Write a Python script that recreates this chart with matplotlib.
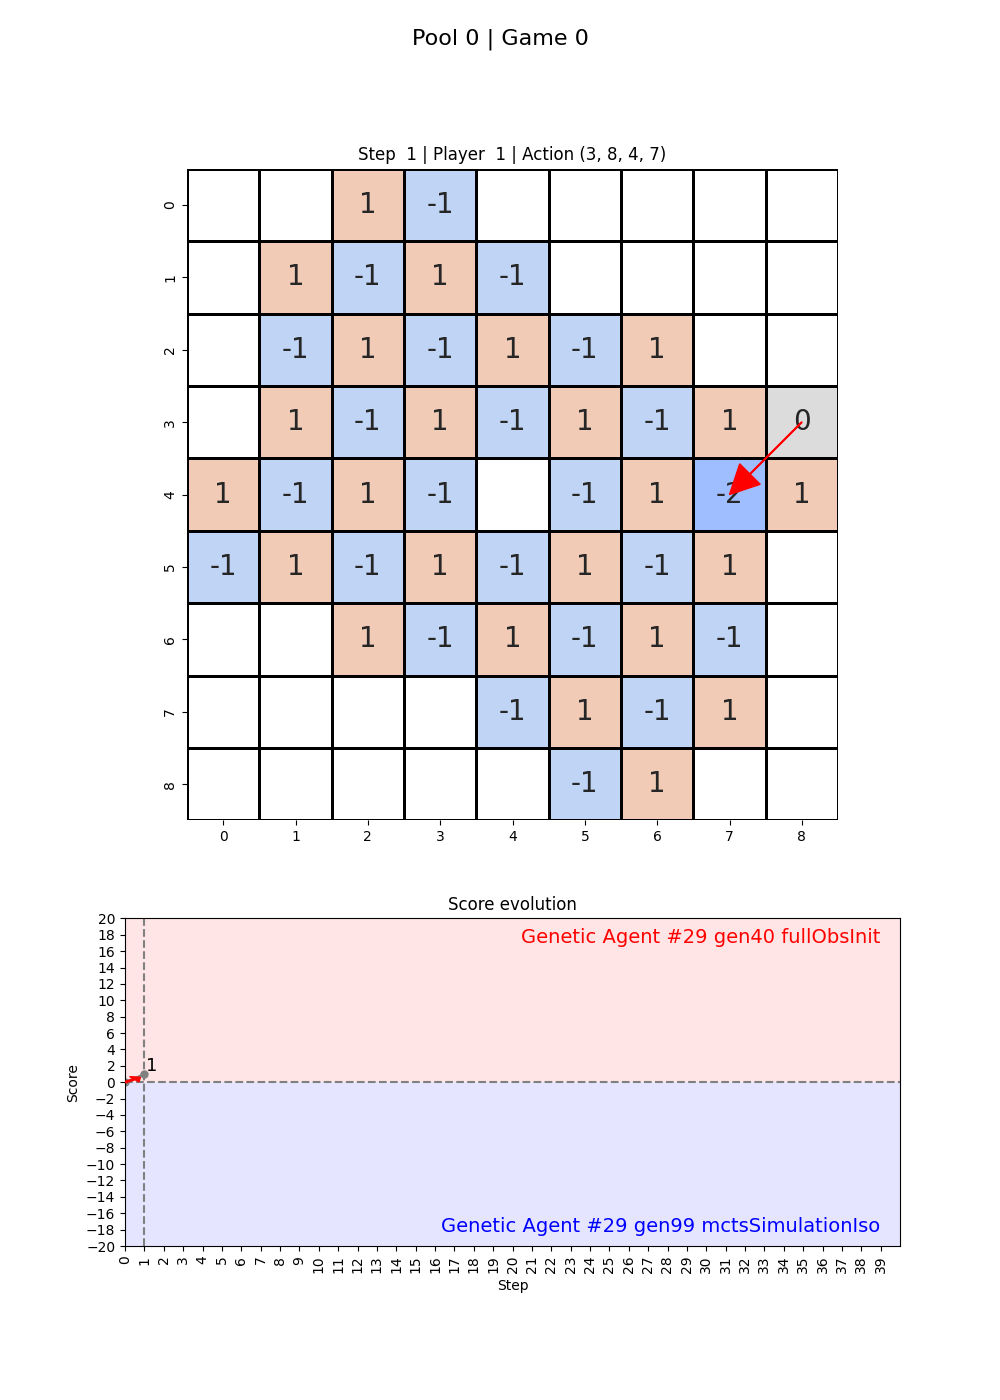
import numpy as np
import matplotlib
matplotlib.use('Agg')
import matplotlib.pyplot as plt
import seaborn as sns

#board state (nan = empty cell)
n= np.nan
board= [
	[n, n, 1, -1, n, n, n, n, n],
	[n, 1, -1, 1, -1, n, n, n, n],
	[n, -1, 1, -1, 1, -1, 1, n, n],
	[n, 1, -1, 1, -1, 1, -1, 1, 0],
	[1, -1, 1, -1, n, -1, 1, -2, 1],
	[-1, 1, -1, 1, -1, 1, -1, 1, n],
	[n, n, 1, -1, 1, -1, 1, -1, n],
	[n, n, n, n, -1, 1, -1, 1, n],
	[n, n, n, n, n, -1, 1, n, n],
]
action= (3, 8, 4, 7)
step= 1
player= 1

#score history
steps= [0, 1]
scores= [0, 1]
nSteps= 40
agentTop= 'Genetic Agent #29 gen40 fullObsInit'
agentBottom= 'Genetic Agent #29 gen99 mctsSimulationIso'

fig= plt.figure(figsize=(10, 14), dpi=100)
fig.suptitle('Pool 0 | Game 0', fontsize=16, y=0.98)

#board heatmap
ax1= fig.add_axes([0.187, 0.414, 0.651, 0.4655])
data= np.array(board, dtype=float)
sns.heatmap(data, ax=ax1, cmap='coolwarm', vmin=-5, vmax=5, annot=True, fmt='g',
	annot_kws={'fontsize': 20}, cbar=False, linewidths=2, linecolor='black', square=False)
ax1.set_title('Step  %d | Player  %d | Action %s' % (step, player, str(action)), fontsize=12)
ax1.tick_params(axis='y', labelsize=10)
ax1.tick_params(axis='x', labelsize=10)
r0, c0, r1, c1= action
ax1.arrow(c0+0.5, r0+0.5, c1-c0, r1-r0, color='red', width=0.01, head_width=0.4,
	head_length=0.4, length_includes_head=True, zorder=5)

#score evolution
ax2= fig.add_axes([0.125, 0.11, 0.775, 0.234])
ax2.axhspan(0, 20, color='red', alpha=0.1, lw=0)
ax2.axhspan(-20, 0, color='blue', alpha=0.1, lw=0)
ax2.axhline(0, color='gray', linestyle='--')
ax2.axvline(steps[-1], color='gray', linestyle='--')
ax2.plot(steps, scores, color='gray', marker='o', markersize=5)
ax2.arrow(steps[0], scores[0], (steps[1]-steps[0])*0.8, (scores[1]-scores[0])*0.6,
	color='red', width=0.15, head_width=0.8, head_length=0.4, length_includes_head=True, zorder=5)
ax2.annotate(str(scores[-1]), (steps[-1], scores[-1]), textcoords='offset points', xytext=(1, 2), fontsize=13)
ax2.set_xlim(0, nSteps)
ax2.set_ylim(-20, 20)
ax2.set_xticks(range(nSteps))
ax2.set_xticklabels([str(i) for i in range(nSteps)], rotation=90)
ax2.set_yticks(range(-20, 21, 2))
ax2.set_title('Score evolution', fontsize=12)
ax2.set_xlabel('Step')
ax2.set_ylabel('Score')
ax2.text(0.975, 0.97, agentTop, transform=ax2.transAxes, color='red', fontsize=14, ha='right', va='top')
ax2.text(0.975, 0.03, agentBottom, transform=ax2.transAxes, color='blue', fontsize=14, ha='right', va='bottom')

plt.savefig('out.png')
